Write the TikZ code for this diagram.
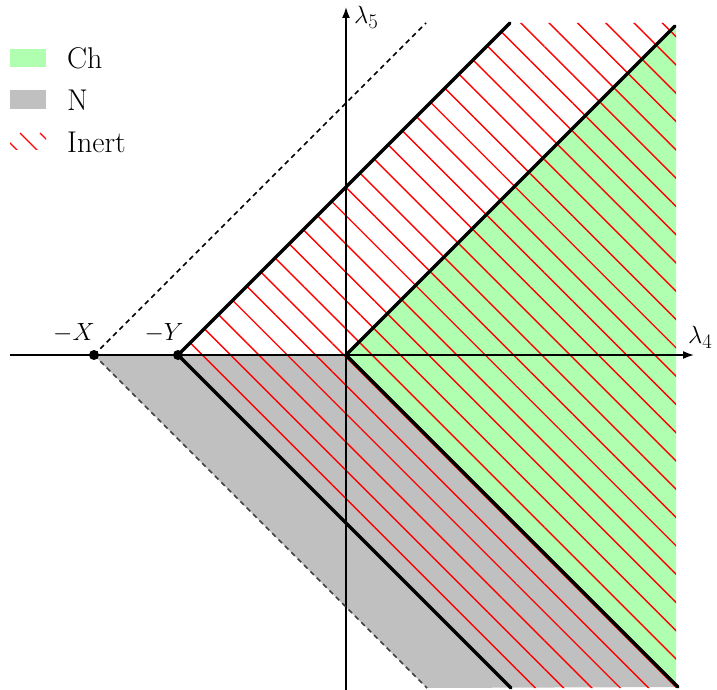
\documentclass[tikz,border=0pt]{standalone}
\usetikzlibrary{patterns.meta,arrows.meta}
\definecolor{chgreen}{RGB}{176,255,176}
\definecolor{ngray}{RGB}{192,192,192}
\begin{document}
\begin{tikzpicture}[x=1pt,y=1pt,
  thickline/.style={line width=3.2pt, line cap=round},
  axisline/.style={line width=1.6pt, -{Latex[length=11pt,width=8pt]}},
  dashline/.style={line width=1.6pt, dash pattern=on 5pt off 4pt},
  hatchfill/.style={pattern={Lines[angle=-45,distance=20pt,line width=1.4pt]}, pattern color=red},
  hatchstroke/.style={red, line width=1.4pt},
  lab/.style={font=\fontsize{32}{38}\selectfont, inner sep=0pt},
  legtext/.style={font=\fontsize{30}{36}\selectfont, anchor=west, inner sep=0pt},
  dot/.style={circle, fill=black, inner sep=0pt, minimum size=10pt}]
\useasboundingbox (0,0) rectangle (717,-690);
% key points
\coordinate (O) at (346,-355);
\coordinate (Y) at (178,-355);
\coordinate (X) at (94,-355);
\coordinate (YU) at (510,-23);
\coordinate (OU) at (675,-26);
\coordinate (YD) at (511,-688);
\coordinate (OD) at (678,-687);
\coordinate (XU) at (426,-23);
\coordinate (XD) at (427,-688);
\coordinate (axL) at (10,-355);
\coordinate (axR) at (694,-355);
\coordinate (axB) at (346,-690);
\coordinate (axT) at (346,-7);
% regions
\fill[chgreen] (O) -- (OU) -- (676,-26) -- (676,-688) -- (OD) -- cycle;
\fill[ngray] (X) -- (O) -- (OD) -- (XD) -- cycle;
\fill[hatchfill] (Y) -- (YU) -- (676,-23) -- (676,-688) -- (YD) -- cycle;
% axes
\draw[axisline] (axL) -- (axR);
\draw[axisline] (axB) -- (axT);
\node[lab, anchor=west] (l4) at (688,-337) {$\lambda_4$};
\node[lab, anchor=west] (l5) at (354,-17) {$\lambda_5$};
% boundary lines
\draw[thickline] (Y) -- (YU);
\draw[thickline] (O) -- (OU);
\draw[thickline] (Y) -- (YD);
\draw[thickline] (O) -- (OD);
\draw[dashline] (X) -- (XU);
\draw[dashline, black!75] (X) -- (XD);
% points
\node[dot] (px) at (X) {};
\node[dot] (py) at (Y) {};
\node[lab] (lx) at (74,-333) {$-X$};
\node[lab] (ly) at (164,-333) {$-Y$};
% legend
\fill[chgreen] (10,-49) rectangle (46,-67);
\fill[ngray] (10,-90) rectangle (46,-109);
\begin{scope}
  \clip (10,-133) rectangle (46,-149);
  \foreach \s in {0,20,40} \draw[hatchstroke] (\s,-133) -- ++(18,-18);
\end{scope}
\node[legtext] (lch) at (67,-58) {Ch};
\node[legtext] (ln) at (67,-100) {N};
\node[legtext] (li) at (67,-142) {Inert};
\end{tikzpicture}
\end{document}
